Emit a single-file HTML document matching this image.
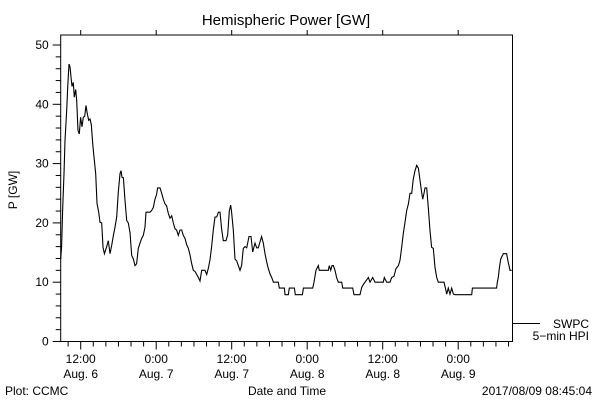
<!DOCTYPE html>
<html><head><meta charset="utf-8">
<style>
html,body{margin:0;padding:0;background:#fff;}
svg{display:block;font-family:"Liberation Sans",sans-serif;}
</style></head>
<body>
<svg id="chart" width="600" height="400" viewBox="0 0 600 400">
<rect width="600" height="400" fill="#fff"/>
<text x="286" y="25" font-size="15" text-anchor="middle">Hemispheric Power [GW]</text>
<text x="17" y="190" font-size="12" text-anchor="middle" transform="rotate(-90 17 190)">P [GW]</text>
<text x="287" y="395" font-size="12" text-anchor="middle">Date and Time</text>
<text x="5" y="395" font-size="12">Plot: CCMC</text>
<text x="592" y="395" font-size="12" text-anchor="end">2017/08/09 08:45:04</text>
<g id="axes"></g>
<g id="series"></g>
<line x1="513" y1="323.5" x2="540" y2="323.5" stroke="#000"/>
<text x="589" y="328" font-size="12" text-anchor="end">SWPC</text>
<text x="589" y="340" font-size="12" text-anchor="end">5−min HPI</text>
</svg>
<script>
// hours since Aug 6 00:00 UT
const hours = [8.82,8.97,9.13,9.35,9.50,9.77,9.93,10.14,10.30,10.46,10.62,10.83,10.99,11.20,11.36,11.57,11.78,11.99,12.21,12.42,12.63,12.84,13.05,13.27,13.48,13.69,13.90,14.11,14.38,14.59,14.86,15.07,15.33,15.54,15.76,16.13,16.39,16.66,16.92,17.19,17.45,17.72,17.98,18.25,18.40,18.56,18.78,19.04,19.31,19.57,19.84,20.10,20.37,20.63,20.89,21.16,21.42,21.69,21.95,22.22,22.38,23.01,23.28,23.54,23.81,24.07,24.23,24.60,24.87,25.13,25.40,25.66,25.93,26.19,26.46,26.72,26.99,27.25,27.52,27.78,28.05,28.31,28.58,28.84,29.11,29.37,29.64,29.90,30.17,30.43,30.70,30.96,31.23,31.76,32.02,32.29,32.55,32.82,33.08,33.35,33.61,33.88,34.14,34.40,34.67,35.09,35.36,35.62,35.84,35.99,36.26,36.52,36.79,37.05,37.32,37.58,37.85,38.11,38.38,38.75,39.07,39.33,39.70,39.97,40.23,40.50,40.76,41.03,41.29,41.56,41.82,42.09,42.35,42.62,43.41,43.57,44.37,44.47,45.00,45.16,45.96,46.11,47.23,47.39,48.87,49.08,49.40,49.77,49.93,51.36,51.52,51.73,51.94,52.15,52.42,52.68,52.95,53.48,53.64,55.23,55.44,56.39,56.66,56.92,57.19,57.72,57.98,58.41,58.78,60.10,60.26,60.63,61.16,61.43,61.80,62.11,62.49,62.75,63.02,63.28,63.55,63.81,64.08,64.34,64.61,64.87,65.14,65.40,65.67,65.93,66.19,66.35,66.56,66.72,66.99,67.25,67.52,67.78,68.05,68.31,68.58,68.84,69.74,69.96,70.17,70.43,70.70,70.96,71.23,71.49,74.14,74.25,78.11,78.22,78.38,78.54,78.75,79.17,79.70,79.97,80.23,80.50];
const power = [13.9,16,22,28.3,33.9,39,42.9,46.8,46.3,44.6,43,43.7,41.2,42.5,40.6,35.6,35,37.8,36.2,37.8,38,39.8,38.4,37.3,37.5,36.6,33.4,31.1,28.3,23.3,21.8,20.1,20,15.9,14.8,16,17,14.8,16.2,17.9,19.3,21,25.2,28.3,28.8,27.7,27.6,23.8,20.4,20,18.4,14.5,13.9,12.8,13.1,15.7,16.6,17.4,17.9,19.3,21.8,21.8,22.1,22.6,24,24.8,25.9,25.9,25,24,23.2,22.9,21.6,20.8,21.2,20,19,18.8,17.9,18.8,18.8,17.9,17.4,16.3,15.7,14.6,13.1,12,11.8,11.3,10.8,10.2,12,12,11.3,12.4,13.8,16.1,18.8,21,21,21.8,21.8,19,17,17,18,22,23,21.8,18.8,13.9,13.6,12.8,12,12.8,15.7,16,15.8,17.7,17.7,15.1,16.6,15.8,15.8,16.8,17.7,16.6,14.8,13.4,12.3,11.4,10.8,10,10,9,9,7.9,7.9,9,9,7.9,7.9,9,9,10,12,12.8,12,12,12.8,12,12.8,12.8,12,10.8,10,10,9,9,7.9,7.9,9.1,9.6,10,10.8,10,10.8,10,10,10.8,10,10,10.8,11,12.3,12.8,13.7,15.9,18.2,20.1,22.1,23.2,25,25,27.4,28.8,29.7,29.2,27.2,25.2,24,25,25.9,25.9,22.6,18.7,15.9,15.7,12.5,10.8,10,10,9,8,9,8,9,8,7.9,7.9,9,9,10,10.8,12.3,13.9,14.8,14.8,13.3,12,12];
const yTickLabels = [0,10,20,30,40,50];
const xTickHours = [12,24,36,48,60,72];
const xTickTimes = ["12:00","0:00","12:00","0:00","12:00","0:00"];
const xTickDates = ["Aug. 6","Aug. 7","Aug. 7","Aug. 8","Aug. 8","Aug. 9"];

const L=60.7,R=512.5,T=35,B=341.5;
const xs=h=>80.7+(h-12)*75.5/12;
const ys=v=>B-v*5.93;
const NS="http://www.w3.org/2000/svg";
const axes=document.getElementById('axes');
function mk(tag,attrs,parent){const e=document.createElementNS(NS,tag);for(const k in attrs)e.setAttribute(k,attrs[k]);parent.appendChild(e);return e;}

const frame=mk('rect',{x:L,y:T,width:R-L,height:B-T,fill:'none',stroke:'#000','stroke-width':1},axes);



// y ticks
for(let v=0;v<=51;v+=2){
  const y=ys(v);const major=v%10===0;
  const t=mk('line',{x1:L-(major?8:5),y1:y,x2:L,y2:y,stroke:'#000'},axes);
  
  
}
yTickLabels.forEach(v=>{
  const t=mk('text',{x:L-12,y:ys(v)+4,'font-size':12,'text-anchor':'end'},axes);
  t.textContent=v;
  
  
});
// x ticks every 2h
for(let h=10;h<=80;h+=2){
  const x=xs(h);const major=h%12===0;
  const t=mk('line',{x1:x,y1:B,x2:x,y2:B+(major?8:5),stroke:'#000'},axes);
  
  
  if(major){const u=mk('line',{x1:x,y1:T,x2:x,y2:T-5,stroke:'#000'},axes);
  
  }
}
xTickHours.forEach((h,i)=>{
  const a=mk('text',{x:xs(h),y:363,'font-size':12,'text-anchor':'middle'},axes);
  a.textContent=xTickTimes[i];
  
  
  const b=mk('text',{x:xs(h),y:378,'font-size':12,'text-anchor':'middle'},axes);
  b.textContent=xTickDates[i];
  
  
});
// series
const d=hours.map((h,i)=>(i?'L':'M')+xs(h).toFixed(1)+','+ys(power[i]).toFixed(1)).join(' ');
const p=mk('path',{d:d,fill:'none',stroke:'#000','stroke-width':1.1},document.getElementById('series'));


</script>
</body></html>
